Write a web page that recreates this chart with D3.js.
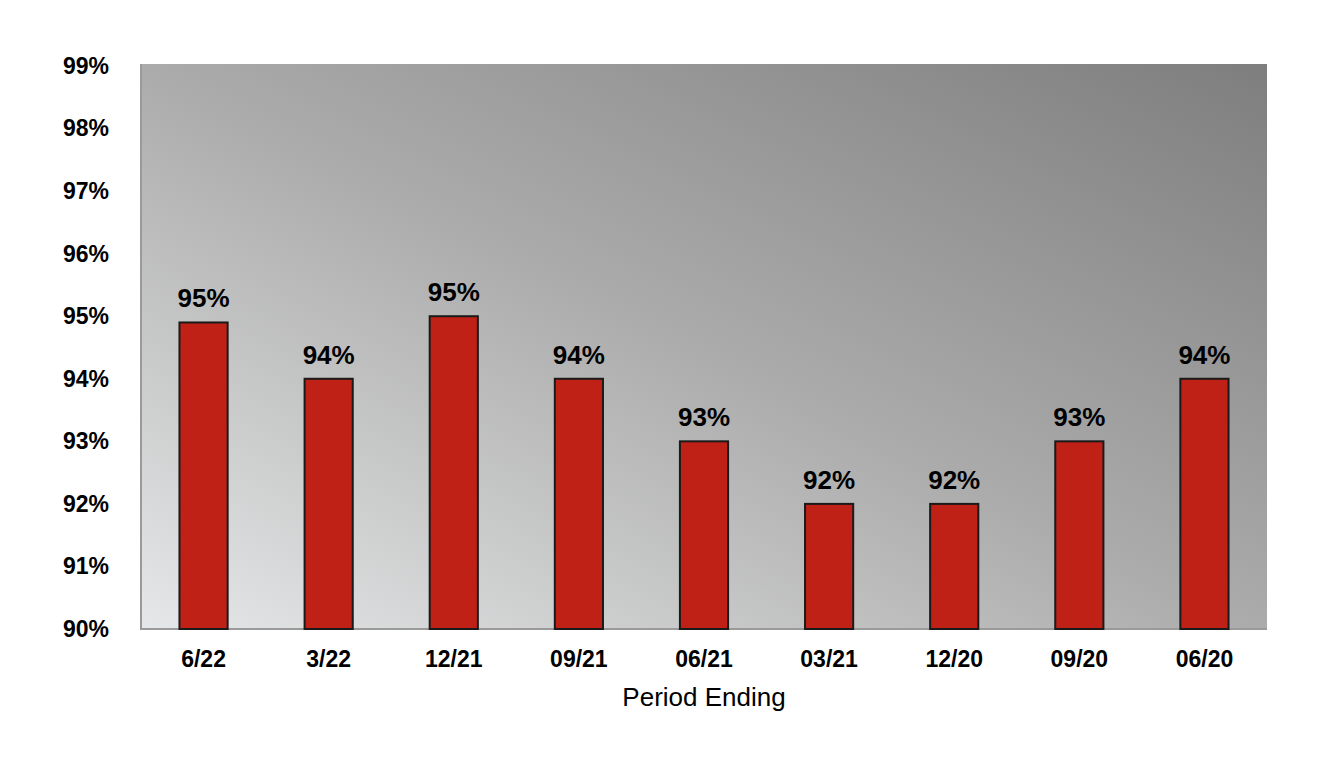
<!DOCTYPE html>
<html>
  <head>
    <meta charset="utf-8" />
    <title>Period Ending</title>
    <style>
      body {
        margin: 0;
        background: #fff;
      }
      #chart text {
        font-family: Arial, "Liberation Sans", sans-serif;
        fill: #000;
      }
    </style>
  </head>
  <body>
    <div id="chart"></div>
    <script src="https://d3js.org/d3.v7.min.js"></script>
    <script>
      // values
      var periods = ["6/22", "3/22", "12/21", "09/21", "06/21", "03/21", "12/20", "09/20", "06/20"];
      var values = [94.9, 94, 95, 94, 93, 92, 92, 93, 94];
      var valueLabels = ["95%", "94%", "95%", "94%", "93%", "92%", "92%", "93%", "94%"];
      var yTicks = [90, 91, 92, 93, 94, 95, 96, 97, 98, 99];

      var width = 1330, height = 778;
      var plot = { left: 141, right: 1267, top: 64, bottom: 629 };

      var svg = d3.select("#chart").append("svg")
        .attr("width", width)
        .attr("height", height);

      // background gradient, light bottom-left to dark top-right
      var grad = svg.append("defs").append("linearGradient")
        .attr("id", "bg")
        .attr("x1", 0).attr("y1", 1)
        .attr("x2", 1).attr("y2", 0);
      grad.append("stop").attr("offset", "0%").attr("stop-color", "#e6e7e8");
      grad.append("stop").attr("offset", "50%").attr("stop-color", "#ababab");
      grad.append("stop").attr("offset", "100%").attr("stop-color", "#7e7e7e");

      var x = d3.scaleBand()
        .domain(periods)
        .range([plot.left, plot.right])
        .paddingInner(0.615)
        .paddingOuter(0.3075);

      var y = d3.scaleLinear()
        .domain([90, 99])
        .range([plot.bottom, 66]);

      svg.append("rect")
        .attr("x", plot.left)
        .attr("y", plot.top)
        .attr("width", plot.right - plot.left)
        .attr("height", plot.bottom - plot.top)
        .attr("fill", "url(#bg)");

      // y axis
      var yAxis = svg.append("g")
        .attr("transform", "translate(" + plot.left + ",0)")
        .call(d3.axisLeft(y).tickValues(yTicks).tickSize(0).tickPadding(32)
          .tickFormat(function(d) { return d + "%"; }));
      yAxis.select(".domain").remove();
      yAxis.selectAll("text")
        .style("font-size", "23px")
        .style("font-weight", "bold");

      // x axis
      var xAxis = svg.append("g")
        .attr("transform", "translate(0," + plot.bottom + ")")
        .call(d3.axisBottom(x).tickSize(0).tickPadding(22));
      xAxis.select(".domain").remove();
      xAxis.selectAll("text")
        .style("font-size", "23px")
        .style("font-weight", "bold");

      // frame lines
      svg.append("line")
        .attr("x1", plot.left).attr("x2", plot.left)
        .attr("y1", plot.top).attr("y2", plot.bottom + 1)
        .attr("stroke", "#9a9a9a").attr("stroke-width", 2);
      svg.append("line")
        .attr("x1", plot.left).attr("x2", plot.right)
        .attr("y1", plot.bottom).attr("y2", plot.bottom)
        .attr("stroke", "#9a9a9a").attr("stroke-width", 2);

      // bars
      svg.append("g")
        .selectAll("rect")
        .data(values)
        .enter().append("rect")
        .attr("x", function(d, i) { return x(periods[i]); })
        .attr("y", function(d) { return y(d); })
        .attr("width", x.bandwidth())
        .attr("height", function(d) { return y(90) - y(d); })
        .attr("fill", "#c02117")
        .attr("stroke", "#1a1a1a")
        .attr("stroke-width", 2);

      // value labels
      svg.append("g")
        .selectAll("text")
        .data(values)
        .enter().append("text")
        .attr("x", function(d, i) { return x(periods[i]) + x.bandwidth() / 2; })
        .attr("y", function(d) { return y(d) - 15; })
        .attr("text-anchor", "middle")
        .style("font-size", "26px")
        .style("font-weight", "bold")
        .text(function(d, i) { return valueLabels[i]; });

      svg.append("text")
        .attr("x", (plot.left + plot.right) / 2)
        .attr("y", 706)
        .attr("text-anchor", "middle")
        .style("font-size", "26px")
        .text("Period Ending");
    </script>
  </body>
</html>
